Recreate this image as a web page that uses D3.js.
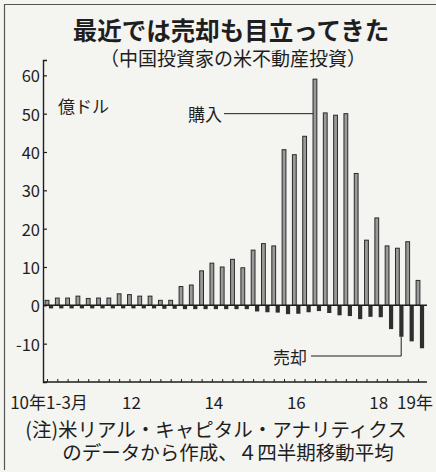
<!DOCTYPE html>
<html>
<head>
<meta charset="utf-8">
<script src="https://cdn.jsdelivr.net/npm/d3@7"></script>
<style>
  body { margin: 0; background: #f4f4f1; }
  svg { display: block; font-family: "Noto Sans CJK JP", "Noto Sans", sans-serif; }
</style>
</head>
<body>
<div id="chart"></div>
<script>
// quarters 2010 Q1 .. 2019 Q1
const quarters = [
    '10Q1', '10Q2', '10Q3', '10Q4', '11Q1', '11Q2', '11Q3', '11Q4',
    '12Q1', '12Q2', '12Q3', '12Q4', '13Q1', '13Q2', '13Q3', '13Q4',
    '14Q1', '14Q2', '14Q3', '14Q4', '15Q1', '15Q2', '15Q3', '15Q4',
    '16Q1', '16Q2', '16Q3', '16Q4', '17Q1', '17Q2', '17Q3', '17Q4',
    '18Q1', '18Q2', '18Q3', '18Q4', '19Q1'
];
// 億ドル, 4-quarter moving average
const purchases = [
    1.3, 1.9, 1.9, 2.4, 1.8, 1.9, 1.9, 3.0,
    2.8, 2.4, 2.4, 1.3, 1.3, 4.9, 5.3, 9.0,
    11.0, 10.0, 12.0, 9.8, 14.4, 16.1, 15.5, 40.6,
    39.3, 44.1, 59.0, 50.2, 49.6, 50.0, 34.4, 17.0,
    22.8, 15.5, 14.9, 16.6, 6.5
];
const sales = [
    -0.8, -0.8, -0.8, -0.8, -0.8, -0.8, -0.8, -0.8,
    -0.8, -0.8, -0.8, -0.9, -0.9, -1.0, -1.0, -1.0,
    -1.0, -1.0, -1.0, -1.0, -1.6, -1.8, -1.9, -2.3,
    -2.2, -1.8, -1.5, -2.0, -2.6, -2.8, -3.6, -3.0,
    -3.1, -6.2, -8.2, -9.4, -11.2
];
const yTicks = [60, 50, 40, 30, 20, 10, 0, -10];
const xLabels = [
    { q: '10Q1', text: '10年1-3月' },
    { q: '12Q1', text: '12' },
    { q: '14Q1', text: '14' },
    { q: '16Q1', text: '16' },
    { q: '18Q1', text: '18' },
    { q: '19Q1', text: '19年' }
];

const width = 436;
const height = 472;
const ink = '#1e1e1e';

const svg = d3.select('#chart').append('svg')
    .attr('width', width)
    .attr('height', height);

// frame
svg.append('path')
    .attr('d', 'M4.5,470 V4.5 H436')
    .attr('fill', 'none')
    .attr('stroke', '#555')
    .attr('stroke-width', 1.2);

const left = 43, right = 427, bottom = 382;

const xScale = d3.scalePoint()
    .domain(quarters)
    .range([47, 418]);

const yScale = d3.scaleLinear()
    .domain([-20, 64])
    .range([bottom, 60]);

// title
svg.append('text')
    .attr('x', 231).attr('y', 29)
    .attr('text-anchor', 'middle')
    .attr('dominant-baseline', 'central')
    .attr('font-size', 24.5)
    .attr('font-weight', 'bold')
    .attr('fill', ink)
    .text('最近では売却も目立ってきた');

svg.append('text')
    .attr('x', 233).attr('y', 57)
    .attr('text-anchor', 'middle')
    .attr('dominant-baseline', 'central')
    .attr('font-size', 19)
    .attr('fill', ink)
    .text('（中国投資家の米不動産投資）');

// y axis
const yAxis = svg.append('g')
    .attr('transform', `translate(${left},0)`)
    .call(d3.axisRight(yScale).tickValues(yTicks).tickSize(4).tickFormat(''));
yAxis.select('.domain').attr('stroke', ink).attr('stroke-width', 1.4);
yAxis.selectAll('.tick line').attr('stroke', ink).attr('stroke-width', 1.2);

svg.append('g').selectAll('text')
    .data(yTicks)
    .join('text')
    .attr('x', left - 3)
    .attr('y', (d) => yScale(d))
    .attr('text-anchor', 'end')
    .attr('dominant-baseline', 'central')
    .attr('font-size', 16.5)
    .attr('fill', ink)
    .text((d) => d);

// x axis at bottom with quarter ticks pointing up
const xAxis = svg.append('g')
    .attr('transform', `translate(0,${bottom})`)
    .call(d3.axisTop(xScale).tickSize(3).tickSizeOuter(0).tickFormat(''));
xAxis.select('.domain').attr('d', `M${left},0H${right}`).attr('stroke', ink).attr('stroke-width', 1.4);
xAxis.selectAll('.tick line').attr('stroke', ink).attr('stroke-width', 1);

svg.append('g').selectAll('text')
    .data(xLabels)
    .join('text')
    .attr('x', (d) => xScale(d.q) + (d.q === '19Q1' ? -3 : 2))
    .attr('y', 401)
    .attr('text-anchor', 'middle')
    .attr('dominant-baseline', 'central')
    .attr('font-size', 17)
    .attr('fill', ink)
    .text((d) => d.text);

// bars
const barW = 3.8;
const offset = 3.8;

svg.append('g').selectAll('rect')
    .data(quarters)
    .join('rect')
    .attr('x', (d) => xScale(d) - barW / 2)
    .attr('y', (d, i) => yScale(purchases[i]))
    .attr('width', barW)
    .attr('height', (d, i) => yScale(0) - yScale(purchases[i]))
    .attr('fill', '#9a9a9a')
    .attr('stroke', '#2a2a2a')
    .attr('stroke-width', 1);

svg.append('g').selectAll('rect')
    .data(quarters)
    .join('rect')
    .attr('x', (d) => xScale(d) + offset - barW / 2)
    .attr('y', yScale(0))
    .attr('width', barW + 0.4)
    .attr('height', (d, i) => yScale(sales[i]) - yScale(0))
    .attr('fill', '#2e2e2e');

// zero line
svg.append('line')
    .attr('x1', left).attr('x2', right)
    .attr('y1', yScale(0)).attr('y2', yScale(0))
    .attr('stroke', ink)
    .attr('stroke-width', 1.5);

// unit
svg.append('text')
    .attr('x', 58).attr('y', 105)
    .attr('dominant-baseline', 'central')
    .attr('font-size', 17)
    .attr('fill', ink)
    .text('億ドル');

// annotations
const peak = '16Q3';
svg.append('text')
    .attr('x', 188).attr('y', 113)
    .attr('dominant-baseline', 'central')
    .attr('font-size', 17)
    .attr('fill', ink)
    .text('購入');
svg.append('line')
    .attr('x1', 224).attr('x2', xScale(peak) - barW / 2)
    .attr('y1', yScale(50)).attr('y2', yScale(50))
    .attr('stroke', ink).attr('stroke-width', 1);

const saleQ = '18Q3';
const saleI = quarters.indexOf(saleQ);
svg.append('text')
    .attr('x', 273).attr('y', 356)
    .attr('dominant-baseline', 'central')
    .attr('font-size', 17)
    .attr('fill', ink)
    .text('売却');
svg.append('path')
    .attr('d', `M311,356H${xScale(saleQ) + offset}V${yScale(sales[saleI])}`)
    .attr('fill', 'none')
    .attr('stroke', ink).attr('stroke-width', 1);

// note
svg.append('text')
    .attr('x', 216).attr('y', 428)
    .attr('text-anchor', 'middle')
    .attr('dominant-baseline', 'central')
    .attr('font-size', 19.5)
    .attr('fill', ink)
    .text('(注)米リアル・キャピタル・アナリティクス');
svg.append('text')
    .attr('x', 228).attr('y', 451)
    .attr('text-anchor', 'middle')
    .attr('dominant-baseline', 'central')
    .attr('font-size', 19.5)
    .attr('fill', ink)
    .text('のデータから作成、４四半期移動平均');
</script>
</body>
</html>
